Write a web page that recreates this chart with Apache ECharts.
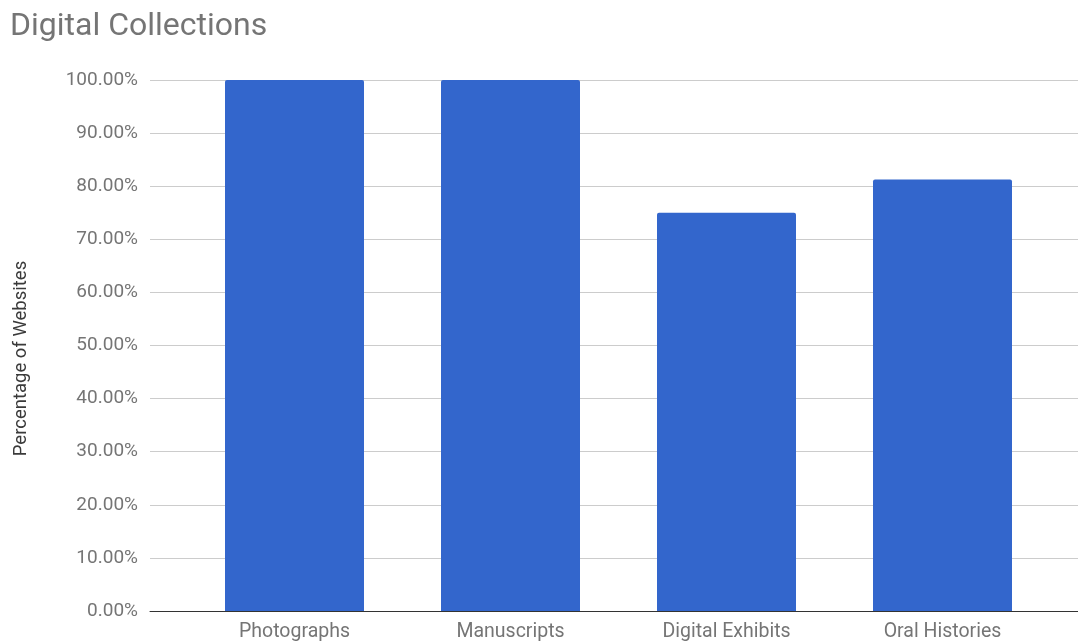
<!DOCTYPE html>
<html><head><meta charset="utf-8">
<style>html,body{margin:0;padding:0;background:#fff}#c{width:1078px;height:642px}</style>
<script src="https://cdn.jsdelivr.net/npm/echarts@6/dist/echarts.min.js"></script>
</head><body><div id="c"></div>
<script>
const categories = ['Photographs', 'Manuscripts', 'Digital Exhibits', 'Oral Histories'];
const values = [100, 100, 75, 81.25];
const yMin = 0, yMax = 100, yStep = 10;
const titleText = 'Digital Collections';
const yAxisTitle = 'Percentage of Websites';

const chart = echarts.init(document.getElementById('c'), null, {renderer: 'canvas'});
const fmt = v => v.toFixed(2) + '%';
chart.setOption({
  animation: false,
  title: {text: titleText, left: 5, top: 6,
    textStyle: {fontFamily: 'Roboto', fontSize: 32, fontWeight: 'normal', color: '#757575'}},
  grid: [
    {left: 150, right: 0, top: 80, bottom: 31},
    {left: 186.5, width: 864, top: 80, bottom: 31}
  ],
  xAxis: [
    {gridIndex: 0, type: 'value', min: 0, max: 1, show: true,
     axisLine: {show: true, lineStyle: {color: '#333', width: 1}},
     axisTick: {show: false}, axisLabel: {show: false}, splitLine: {show: false}},
    {gridIndex: 1, type: 'category', data: categories,
     axisLine: {show: false}, axisTick: {show: false},
     axisLabel: {fontFamily: 'Roboto', fontSize: 19.5, color: '#757575', margin: 11, interval: 0}}
  ],
  yAxis: [
    {gridIndex: 0, type: 'value', min: yMin, max: yMax, interval: yStep,
     name: yAxisTitle, nameLocation: 'middle', nameGap: 119,
     nameTextStyle: {fontFamily: 'Roboto', fontSize: 18.5, color: '#3a3a3a', padding: [0, 26, 0, 0]},
     axisLine: {show: false}, axisTick: {show: false},
     axisLabel: {formatter: fmt, fontFamily: 'Roboto', fontSize: 19, color: '#757575', margin: 12},
     splitLine: {lineStyle: {color: '#cccccc', width: 1}}},
    {gridIndex: 1, type: 'value', min: yMin, max: yMax, interval: yStep, show: false}
  ],
  series: [{
    type: 'bar', xAxisIndex: 1, yAxisIndex: 1, data: values, barWidth: 139,
    itemStyle: {color: '#3366cc', borderRadius: [2, 2, 0, 0]}
  }]
});
</script></body></html>
